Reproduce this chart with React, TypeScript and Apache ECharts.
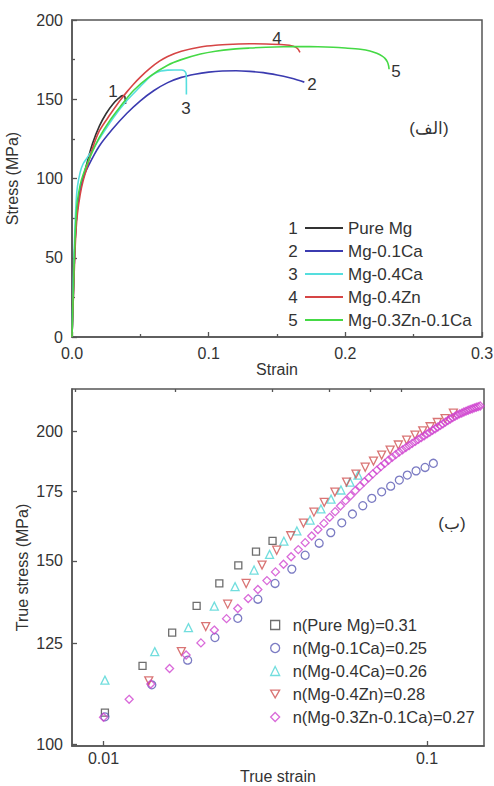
import React, { useEffect, useRef } from 'react';
import * as echarts from 'echarts';

const FONT = '"Liberation Sans", Arial, sans-serif';
const TXT = '#333333';
const AX = '#555555';

// ---------- top chart: engineering stress-strain ----------
const engNames = ['Pure Mg', 'Mg-0.1Ca', 'Mg-0.4Ca', 'Mg-0.4Zn', 'Mg-0.3Zn-0.1Ca'];
const engNumbers = ['1', '2', '3', '4', '5'];
const engColors = ['#333333', '#3b3bb0', '#55dede', '#d64545', '#45d945'];

const pureMg: [number, number][] = [
  [0, 0], [0.001, 28], [0.002, 55], [0.003, 72], [0.004, 82], [0.006, 93], [0.008, 100],
  [0.011, 110], [0.015, 122], [0.02, 133], [0.025, 141], [0.03, 147], [0.034, 150.5],
  [0.037, 152.3], [0.0385, 152], [0.039, 149.5], [0.0392, 147],
];
const mg01Ca: [number, number][] = [
  [0, 0], [0.001, 28], [0.002, 55], [0.003, 72], [0.005, 88], [0.008, 100], [0.012, 108],
  [0.02, 120.5], [0.03, 131.5], [0.04, 141], [0.05, 149], [0.06, 155.5], [0.07, 160.5], [0.08, 163.8],
  [0.09, 165.8], [0.1, 167.1], [0.11, 167.8], [0.12, 168], [0.13, 167.6], [0.14, 166.8],
  [0.15, 165.3], [0.16, 163.4], [0.165, 162.2], [0.17, 160.8],
];
const mg04Ca: [number, number][] = [
  [0, 0], [0.001, 35], [0.002, 65], [0.003, 85], [0.004, 95], [0.006, 104], [0.008, 109],
  [0.011, 113], [0.015, 118], [0.02, 125], [0.03, 138], [0.04, 149], [0.05, 158], [0.055, 162.5],
  [0.06, 166], [0.065, 167.8], [0.07, 168.4], [0.075, 168.5], [0.08, 168.5], [0.082, 168],
  [0.0835, 166], [0.0837, 160], [0.0837, 153],
];
const mg04Zn: [number, number][] = [
  [0, 0], [0.001, 25], [0.002, 50], [0.003, 68], [0.004, 78], [0.006, 90], [0.008, 98],
  [0.011, 107], [0.015, 119], [0.02, 130], [0.028, 140.5], [0.035, 149], [0.04, 154.5],
  [0.045, 159.5], [0.05, 164], [0.057, 169.5], [0.064, 174], [0.07, 177], [0.08, 180.3],
  [0.094, 183], [0.105, 184.1], [0.118, 184.7], [0.13, 185], [0.142, 184.9], [0.155, 184.4],
  [0.162, 183.5], [0.165, 182], [0.1668, 179.6],
];
const mg03Zn01Ca: [number, number][] = [
  [0, 0], [0.001, 30], [0.002, 58], [0.003, 76], [0.004, 86], [0.006, 96], [0.008, 102],
  [0.011, 109], [0.015, 117], [0.02, 126], [0.028, 137], [0.035, 145], [0.045, 155.5],
  [0.057, 164.5], [0.07, 171.5], [0.08, 175], [0.094, 178.5], [0.105, 180.3], [0.118, 181.6],
  [0.13, 182.3], [0.142, 182.8], [0.155, 183.1], [0.167, 183.2], [0.18, 183.1], [0.191, 182.8],
  [0.2, 182.3], [0.211, 181.5], [0.218, 180.5], [0.223, 179], [0.227, 177.2], [0.229, 175.8],
  [0.2308, 173.5], [0.2317, 171], [0.232, 168.9],
];
const engData = [pureMg, mg01Ca, mg04Ca, mg04Zn, mg03Zn01Ca];

// ---------- bottom chart: true stress-strain (log-log) ----------
const trueNames = [
  'n(Pure Mg)=0.31', 'n(Mg-0.1Ca)=0.25', 'n(Mg-0.4Ca)=0.26', 'n(Mg-0.4Zn)=0.28', 'n(Mg-0.3Zn-0.1Ca)=0.27',
];
const trueColors = ['#4a4a4a', '#5a5ab4', '#4fd6d6', '#cf5151', '#d045d0'];
const INV_TRI = 'path://M0,0 L10,0 L5,8.66 Z';
const trueSymbols = ['rect', 'circle', 'triangle', INV_TRI, 'diamond'];

const pureMgStrain = [0.0101, 0.0132, 0.0163, 0.0194, 0.0228, 0.0261, 0.0296, 0.0333];
const pureMgStress = [107.2, 118.9, 128.0, 135.8, 142.7, 148.5, 153.1, 156.8];

const mg01CaStrain = [0.0101, 0.0141, 0.0182, 0.0221, 0.026, 0.03, 0.0339, 0.0382, 0.042, 0.0464,
  0.0504, 0.0545, 0.0588, 0.0633, 0.0675, 0.0724, 0.0772, 0.0821, 0.0869, 0.0925, 0.0986, 0.1046];
const mg01CaStress = [106.2, 114.0, 120.4, 126.6, 132.1, 137.8, 142.7, 147.3, 151.9, 156.0,
  159.7, 163.2, 166.4, 169.5, 172.3, 174.8, 177.0, 179.4, 181.4, 183.1, 184.5, 186.2];

const mg04CaStrain = [0.0101, 0.0144, 0.0183, 0.022, 0.0255, 0.0292, 0.0326, 0.0361, 0.0396,
  0.0435, 0.047, 0.0505, 0.0542, 0.0578, 0.0612];
const mg04CaStress = [115.2, 122.7, 129.4, 135.7, 141.7, 147.0, 152.2, 156.7, 160.3,
  164.2, 168.3, 172.0, 175.5, 178.6, 181.4];

const mg04ZnStrain = [0.0138, 0.0174, 0.0207, 0.0242, 0.0276, 0.0309, 0.0343, 0.0379, 0.0415,
  0.0447, 0.0481, 0.0519, 0.0564, 0.0603, 0.0644, 0.0683, 0.0724, 0.0769, 0.0815, 0.0865,
  0.0918, 0.097, 0.1022, 0.1076, 0.1137, 0.1206];
const mg04ZnStress = [115.0, 122.7, 129.7, 136.3, 142.7, 148.6, 153.6, 158.6, 163.1,
  167.1, 170.8, 174.7, 178.6, 181.8, 184.6, 187.1, 189.6, 191.7, 193.9, 196.0,
  198.2, 200.1, 201.9, 203.8, 205.6, 208.1];

const mg03Zn01CaStrain = [0.010, 0.012, 0.014, 0.016, 0.018, 0.020, 0.022, 0.024, 0.026, 0.028,
  0.030, 0.032, 0.034, 0.036, 0.038, 0.040, 0.042, 0.044, 0.046, 0.048, 0.050, 0.052, 0.054,
  0.056, 0.058, 0.060, 0.062, 0.064, 0.066, 0.068, 0.070, 0.072, 0.074, 0.076, 0.078, 0.080,
  0.082, 0.084, 0.086, 0.088, 0.090, 0.092, 0.094, 0.096, 0.098, 0.100, 0.102, 0.104, 0.106,
  0.108, 0.110, 0.112, 0.114, 0.116, 0.118, 0.120, 0.122, 0.124, 0.126, 0.128, 0.130, 0.132,
  0.134, 0.136, 0.138, 0.140, 0.142, 0.144, 0.146];
const mg03Zn01CaStress = [106.1, 110.4, 114.2, 118.2, 121.8, 125.1, 128.7, 132.0, 135.0, 138.0,
  140.8, 143.6, 146.4, 148.9, 151.4, 153.8, 156.2, 158.5, 160.8, 163.0, 165.2, 167.3, 169.4,
  171.4, 173.3, 175.2, 177.0, 178.7, 180.35, 181.9, 183.4, 184.8, 186.15, 187.45, 188.65, 189.8,
  190.9, 191.85, 192.8, 193.7, 194.6, 195.45, 196.3, 197.1, 197.9, 198.7, 199.5, 200.3, 201.0,
  201.8, 202.5, 203.2, 204.0, 204.7, 205.4, 206.0, 206.6, 207.2, 207.7, 208.1, 208.6, 209.0,
  209.4, 209.8, 210.1, 210.5, 210.8, 211.1, 211.4];

const trueStrain = [pureMgStrain, mg01CaStrain, mg04CaStrain, mg04ZnStrain, mg03Zn01CaStrain];
const trueStress = [pureMgStress, mg01CaStress, mg04CaStress, mg04ZnStress, mg03Zn01CaStress];

const trueXTicks = [0.01, 0.1];
const trueXMinorTicks = [0.0082, 0.0167, 0.0333, 0.05, 0.0667, 0.0833];
const trueYTicks = [100, 125, 150, 175, 200];
const trueXRange = [0.00799, 0.15];
const trueYRange = [99.56, 219.5];

const lg = (v: number) => Math.log10(v);

export default function App() {
  const ref = useRef<HTMLDivElement>(null);
  useEffect(() => {
    if (!ref.current) return;
    const chart = echarts.init(ref.current, null, { renderer: 'svg' });

    const axisCommon = {
      axisLine: { show: true, lineStyle: { color: AX, width: 1.5 } },
      splitLine: { show: false },
      nameMoveOverlap: false,
      nameTextStyle: { fontSize: 16, color: TXT, fontFamily: FONT },
    };
    const labelCommon = { color: TXT, fontSize: 16, fontFamily: FONT };

    const engSeries = engData.map((d, i) => ({
      type: 'line',
      name: engNames[i],
      xAxisIndex: 0,
      yAxisIndex: 0,
      data: d,
      symbol: 'none',
      smooth: 0.3,
      lineStyle: { color: engColors[i], width: 1.6 },
      itemStyle: { color: engColors[i] },
    }));
    const trueSeries = trueStrain.map((xs, i) => ({
      type: 'scatter',
      name: trueNames[i],
      xAxisIndex: 1,
      yAxisIndex: 1,
      data: xs.map((x, j) => [lg(x), lg(trueStress[i][j])]),
      symbol: trueSymbols[i],
      symbolSize: i === 0 ? 7 : 8,
      itemStyle: { color: 'rgba(0,0,0,0)', borderColor: trueColors[i], borderWidth: 1.3 },
    }));

    const txt = (text: string, x: number, y: number, size = 17, align = 'center') => ({
      type: 'text',
      x, y,
      style: {
        text, fill: TXT, fontSize: size, fontFamily: FONT,
        align, verticalAlign: 'middle', textAlign: align, textVerticalAlign: 'middle',
      },
    });

    const legendNumY = [228, 251, 274, 297, 320];

    chart.setOption({
      animation: false,
      backgroundColor: '#ffffff',
      grid: [
        { left: 72, top: 20, width: 410, height: 317, show: true, borderColor: AX, borderWidth: 1.5, outerBoundsMode: 'none', containLabel: false },
        { left: 72, top: 389, width: 412, height: 357, show: true, borderColor: AX, borderWidth: 1.5, outerBoundsMode: 'none', containLabel: false },
      ],
      xAxis: [
        {
          ...axisCommon, type: 'value', gridIndex: 0, min: 0, max: 0.3, interval: 0.1,
          name: 'Strain', nameLocation: 'middle', nameGap: 24,
          axisTick: { inside: true, length: 5, lineStyle: { color: AX, width: 1.3 } },
          minorTick: { show: true, splitNumber: 2, length: 3, lineStyle: { color: AX, width: 1.3 } },
          axisLabel: { ...labelCommon, margin: 8, formatter: (v: number) => v.toFixed(1) },
        },
        {
          ...axisCommon, type: 'value', gridIndex: 1, min: lg(trueXRange[0]), max: lg(trueXRange[1]),
          name: 'True strain', nameLocation: 'middle', nameGap: 22,
          axisTick: { inside: true, length: 5, customValues: trueXTicks.map(lg), lineStyle: { color: AX, width: 1.3 } },
          axisLabel: {
            ...labelCommon, margin: 4, customValues: trueXTicks.map(lg),
            formatter: (v: number) => String(Number(Math.pow(10, v).toPrecision(1))),
          },
        },
        {
          type: 'value', gridIndex: 1, min: lg(trueXRange[0]), max: lg(trueXRange[1]),
          axisLine: { show: false }, splitLine: { show: false },
          axisLabel: { show: false },
          axisTick: { show: true, inside: true, length: 3, customValues: trueXMinorTicks.map(lg), lineStyle: { color: AX, width: 1.3 } },
        },
      ],
      yAxis: [
        {
          ...axisCommon, type: 'value', gridIndex: 0, min: 0, max: 200, interval: 50,
          name: 'Stress (MPa)', nameLocation: 'middle', nameGap: 52,
          axisTick: { inside: true, length: 5, lineStyle: { color: AX, width: 1.3 } },
          minorTick: { show: true, splitNumber: 2, length: 3, lineStyle: { color: AX, width: 1.3 } },
          axisLabel: { ...labelCommon, margin: 9 },
        },
        {
          ...axisCommon, type: 'value', gridIndex: 1, min: lg(trueYRange[0]), max: lg(trueYRange[1]),
          name: 'True stress (MPa)', nameLocation: 'middle', nameGap: 42,
          axisTick: { inside: true, length: 5, customValues: trueYTicks.map(lg), lineStyle: { color: AX, width: 1.3 } },
          axisLabel: {
            ...labelCommon, margin: 9, customValues: trueYTicks.map(lg),
            formatter: (v: number) => String(Math.round(Math.pow(10, v))),
          },
        },
      ],
      legend: [
        {
          data: engNames, orient: 'vertical', left: 305, top: 216.5, padding: 0, icon: 'rect',
          itemWidth: 38, itemHeight: 2, itemGap: 0, selectedMode: false,
          itemStyle: { borderWidth: 0 },
          textStyle: { fontSize: 17, color: TXT, fontFamily: FONT, lineHeight: 23 },
        },
        {
          data: trueNames.map((n, i) => ({ name: n, icon: trueSymbols[i] })),
          orient: 'vertical', left: 270, top: 613.5, padding: 0,
          itemWidth: 9, itemHeight: 9, itemGap: 0, selectedMode: false,
          itemStyle: { borderWidth: 1.3 },
          textStyle: { fontSize: 16.5, color: TXT, fontFamily: FONT, lineHeight: 23, padding: [0, 0, 0, 8] },
        },
      ],
      graphic: [
        ...engNumbers.map((n, i) => txt(n, 293, legendNumY[i])),
        txt('1', 113, 91),
        txt('2', 312, 84),
        txt('3', 186, 108),
        txt('4', 277, 38),
        txt('5', 396, 71),
        txt('(الف)', 429, 128, 17),
        txt('(ب)', 452, 523, 17),
      ],
      series: [...engSeries, ...trueSeries],
    });
    return () => chart.dispose();
  }, []);
  return (
    <div
      ref={ref}
      style={{ position: 'absolute', left: 0, top: 0, width: 494, height: 786 }}
    />
  );
}
